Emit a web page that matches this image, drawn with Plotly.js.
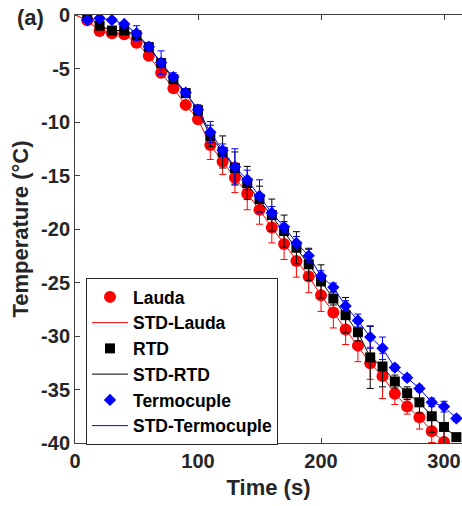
<!DOCTYPE html>
<html>
<head>
<meta charset="utf-8">
<script src="https://cdn.plot.ly/plotly-3.0.1.min.js"></script>
<style>html,body{margin:0;padding:0;background:#fff;overflow:hidden;}#chart{width:462px;height:506px;}</style>
</head>
<body>
<div id="chart"></div>
<script>
// Time (s)
const time = [10,20,30,40,50,60,70,80,90,100,110,120,130,140,150,160,170,180,190,200,210,220,230,240,250,260,270,280,290,300,310];
// Lauda bath (t = 10..300)
const laudaTime = time.slice(0, 30);
const laudaTemp = [-0.5,-1.5,-1.7,-1.8,-2.6,-3.8,-5.4,-6.85,-8.4,-9.75,-12.15,-13.7,-15.2,-16.7,-18.2,-19.85,-21.4,-23.0,-24.45,-26.2,-27.8,-29.4,-30.9,-32.55,-33.75,-35.4,-36.6,-37.6,-38.9,-39.9];
const laudaStd  = [0.1,0.2,0.2,0.2,0.3,0.3,0.4,0.3,0.3,0.3,1.35,1.2,1.4,1.5,1.35,1.45,1.45,1.5,1.5,1.5,1.45,1.4,1.5,1.5,2.1,1.0,0.7,1.1,1.05,1.2];
// Line of Lauda starts at origin
const laudaStartTime = 0, laudaStartTemp = 0, laudaStartStd = 0;
// RTD
const rtdTemp = [-0.1,-1.0,-1.45,-1.45,-1.9,-3.0,-4.5,-6.0,-7.3,-8.9,-11.3,-12.8,-14.3,-15.7,-17.2,-18.7,-20.2,-21.75,-23.3,-24.9,-26.5,-28.05,-29.65,-32.0,-32.85,-34.25,-35.35,-36.2,-37.5,-38.5,-39.45];
const rtdStd  = [0.1,0.2,0.2,0.2,0.3,0.3,0.4,0.4,0.4,0.5,1.0,1.5,1.5,1.55,1.2,1.5,1.5,1.5,1.5,1.55,0.6,1.65,0.8,2.9,1.9,0.6,0.6,1.0,1.5,1.8,0.3];
// Termocuple
const termoTemp = [-0.47,-0.3,-0.47,-0.84,-1.7,-2.96,-4.45,-5.8,-7.25,-8.85,-10.95,-12.65,-14.2,-15.4,-16.9,-18.5,-19.8,-21.3,-22.5,-24.4,-25.45,-27.2,-28.55,-30.1,-31.15,-32.95,-33.9,-34.9,-36.2,-36.6,-37.7];
const termoStd  = [0.1,0.2,0.2,0.2,0.7,0.3,1.1,0.4,0.3,0.3,1.0,0.6,1.7,0.9,1.5,0.6,0.5,0.6,0.6,0.5,0.4,0.5,0.6,1.05,1.05,0.3,0.3,0.3,0.4,0.5,0.3];

const xTicks = [0,100,200,300];
const yTicks = [0,-5,-10,-15,-20,-25,-30,-35,-40];

const FONT = 'Liberation Sans, Arial, Helvetica, sans-serif';
const TXT = '#262626';

function errLine(name, x, y, e, color, lw) {
  return {
    type: 'scatter', mode: 'lines', name: name, x: x, y: y,
    line: {color: color, width: lw},
    error_y: {type: 'data', array: e, visible: true, color: color, thickness: 1, width: 3.5}
  };
}
function pts(name, x, y, color, symbol, size) {
  return {
    type: 'scatter', mode: 'markers', name: name, x: x, y: y,
    marker: {color: color, symbol: symbol, size: size, line: {width: 0}}
  };
}

const data = [
  pts('Lauda', laudaTime, laudaTemp, '#ff0000', 'circle', 12),
  errLine('STD-Lauda', [laudaStartTime].concat(laudaTime), [laudaStartTemp].concat(laudaTemp), [laudaStartStd].concat(laudaStd), '#ff0000', 1),
  pts('RTD', time, rtdTemp, '#000000', 'square', 10),
  errLine('STD-RTD', time, rtdTemp, rtdStd, '#000000', 1),
  pts('Termocuple', time, termoTemp, '#0000ff', 'diamond', 9.5),
  errLine('STD-Termocuple', time, termoTemp, termoStd, '#0000ff', 1)
];

const layout = {
  width: 462, height: 506,
  margin: {l: 75, r: 0, t: 15, b: 63},
  paper_bgcolor: '#fff', plot_bgcolor: '#fff',
  font: {family: FONT, color: TXT, size: 20, weight: 'bold'},
  showlegend: true,
  legend: {
    x: 0.0284, y: 0.3855, xanchor: 'left', yanchor: 'top',
    bgcolor: '#fff', bordercolor: '#262626', borderwidth: 1,
    font: {family: FONT, size: 17.5, color: '#000', weight: 'bold'},
    itemwidth: 36, tracegroupgap: 0
  },
  xaxis: {
    range: [0, 314.6], tickvals: xTicks, ticktext: xTicks.map(String),
    ticks: 'inside', ticklen: 5, tickcolor: '#404040', tickwidth: 1,
    showline: true, linecolor: '#404040', linewidth: 1, mirror: 'ticks',
    showgrid: false, zeroline: false,
    tickfont: {family: FONT, size: 20, color: TXT, weight: 'bold'},
    title: {text: 'Time (s)', font: {family: FONT, size: 22, color: TXT, weight: 'bold'}, standoff: 8}
  },
  yaxis: {
    range: [-40, 0], tickvals: yTicks, ticktext: yTicks.map(String),
    ticks: 'inside', ticklen: 5, tickcolor: '#404040', tickwidth: 1,
    showline: true, linecolor: '#404040', linewidth: 1, mirror: false,
    showgrid: false, zeroline: false,
    tickfont: {family: FONT, size: 20, color: TXT, weight: 'bold'},
    title: {text: 'Temperature (°C)', font: {family: FONT, size: 22, color: TXT, weight: 'bold'}, standoff: 6}
  },
  annotations: [{
    text: '(a)', xref: 'paper', yref: 'paper', x: -0.116, y: 0.995,
    xanchor: 'center', yanchor: 'middle', showarrow: false,
    font: {family: FONT, size: 22, color: TXT, weight: 'bold'}
  }]
};

Plotly.newPlot('chart', data, layout, {displayModeBar: false, staticPlot: true});
</script>
</body>
</html>
